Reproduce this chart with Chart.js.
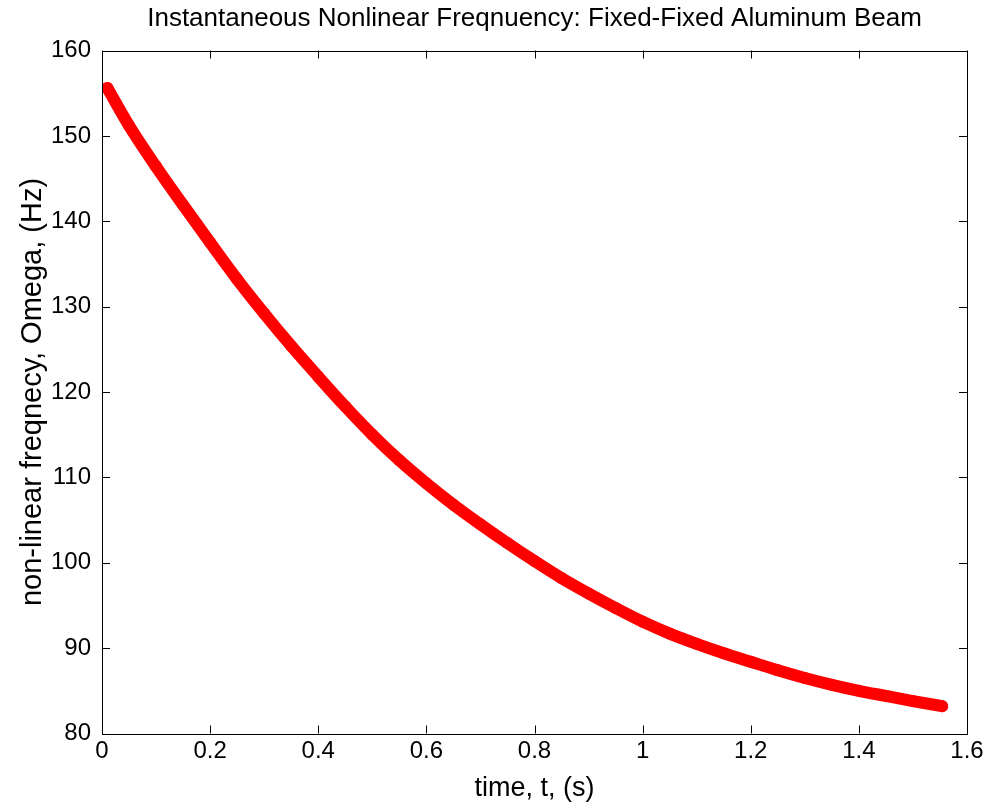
<!DOCTYPE html>
<html>
<head>
<meta charset="utf-8">
<script src="https://cdn.jsdelivr.net/npm/chart.js@4.4.1/dist/chart.umd.min.js"></script>
<style>
  html, body { margin: 0; padding: 0; background: #fff; }
</style>
</head>
<body>
<canvas id="myChart" width="992" height="808"></canvas>
<script>
// values
const timeValues = [0.010, 0.05, 0.10, 0.15, 0.20, 0.25, 0.30, 0.35, 0.40, 0.45, 0.50, 0.55, 0.60, 0.65, 0.70, 0.75, 0.80, 0.85, 0.90, 0.95, 1.00, 1.05, 1.10, 1.15, 1.20, 1.25, 1.30, 1.35, 1.40, 1.45, 1.50, 1.554];
const freqValues = [155.6, 151.2, 146.4, 141.9, 137.5, 133.2, 129.2, 125.4, 121.8, 118.3, 115.0, 112.0, 109.3, 106.8, 104.5, 102.3, 100.2, 98.2, 96.4, 94.7, 93.1, 91.7, 90.5, 89.4, 88.4, 87.4, 86.5, 85.7, 85.0, 84.4, 83.8, 83.2];
const xTickValues = [0, 0.2, 0.4, 0.6, 0.8, 1, 1.2, 1.4, 1.6];
const xTickLabels = ['0', '0.2', '0.4', '0.6', '0.8', '1', '1.2', '1.4', '1.6'];
const yTickValues = [80, 90, 100, 110, 120, 130, 140, 150, 160];
const yTickLabels = ['80', '90', '100', '110', '120', '130', '140', '150', '160'];

const fontFamily = '"Liberation Sans", Arial, Helvetica, sans-serif';

// matlab style box with inward ticks on all four sides
const matlabAxes = {
  id: 'matlabAxes',
  afterDatasetsDraw(chart) {
    const { ctx, chartArea: a, scales: { x, y } } = chart;
    const len = 8;
    ctx.save();
    ctx.strokeStyle = '#000';
    ctx.lineWidth = 1;
    ctx.beginPath();
    x.ticks.forEach(t => {
      const px = Math.round(x.getPixelForValue(t.value)) + 0.5;
      ctx.moveTo(px, a.bottom); ctx.lineTo(px, a.bottom - len);
      ctx.moveTo(px, a.top); ctx.lineTo(px, a.top + len);
    });
    y.ticks.forEach(t => {
      const py = Math.round(y.getPixelForValue(t.value)) + 0.5;
      ctx.moveTo(a.left, py); ctx.lineTo(a.left + len, py);
      ctx.moveTo(a.right, py); ctx.lineTo(a.right - len, py);
    });
    ctx.stroke();
    ctx.strokeRect(Math.round(a.left) + 0.5, Math.round(a.top) + 0.5,
      Math.round(a.right - a.left), Math.round(a.bottom - a.top));
    ctx.restore();
  }
};

const ctx = document.getElementById('myChart').getContext('2d');
const myChart = new Chart(ctx, {
  type: 'scatter',
  data: {
    datasets: [{
      data: timeValues.map((t, i) => ({ x: t, y: freqValues[i] })),
      showLine: true,
      borderColor: 'rgb(255,0,0)',
      backgroundColor: 'rgb(255,0,0)',
      borderWidth: 12,
      borderCapStyle: 'round',
      borderJoinStyle: 'round',
      cubicInterpolationMode: 'monotone',
      pointRadius: 6,
      pointBorderWidth: 0,
      pointHoverRadius: 6
    }]
  },
  options: {
    responsive: false,
    animation: false,
    devicePixelRatio: 1,
    layout: { padding: { left: 0, right: 25, top: 0, bottom: 0 } },
    plugins: {
      legend: { display: false },
      tooltip: { enabled: false },
      title: { display: false }
    },
    scales: {
      // top axis only carries the plot title, centred over the axes box
      x2: {
        type: 'linear',
        position: 'top',
        min: 0,
        max: 1.6,
        afterFit: s => { s.height = 50.5; },
        grid: { display: false, drawTicks: false },
        border: { display: false },
        ticks: { display: false },
        title: {
          display: true,
          text: 'Instantaneous Nonlinear Freqnuency: Fixed-Fixed Aluminum Beam',
          color: '#000',
          font: { family: fontFamily, size: 26, lineHeight: 1.2 },
          padding: { top: 3, bottom: 0 }
        }
      },
      x: {
        type: 'linear',
        min: 0,
        max: 1.6,
        afterBuildTicks: s => { s.ticks = xTickValues.map(v => ({ value: v })); },
        afterFit: s => { s.height = 74.5; },
        grid: { display: false, drawTicks: false },
        border: { display: false },
        ticks: {
          color: '#000',
          padding: 3,
          maxRotation: 0,
          font: { family: fontFamily, size: 24 },
          callback: (v, i) => xTickLabels[i]
        },
        title: {
          display: true,
          text: 'time, t, (s)',
          color: '#000',
          font: { family: fontFamily, size: 27, lineHeight: 1.2 },
          padding: { top: 0, bottom: 3 }
        }
      },
      y: {
        type: 'linear',
        min: 80,
        max: 160,
        afterBuildTicks: s => { s.ticks = yTickValues.map(v => ({ value: v })); },
        afterFit: s => { s.width = 102; },
        grid: { display: false, drawTicks: false },
        border: { display: false },
        ticks: {
          color: '#000',
          padding: 11,
          font: { family: fontFamily, size: 24 },
          callback: (v, i) => yTickLabels[i]
        },
        title: {
          display: true,
          text: 'non-linear freqnecy, Omega, (Hz)',
          color: '#000',
          font: { family: fontFamily, size: 29, lineHeight: 1.2 },
          padding: { top: 15.6, bottom: 0 }
        }
      }
    }
  },
  plugins: [matlabAxes]
});
</script>
</body>
</html>
